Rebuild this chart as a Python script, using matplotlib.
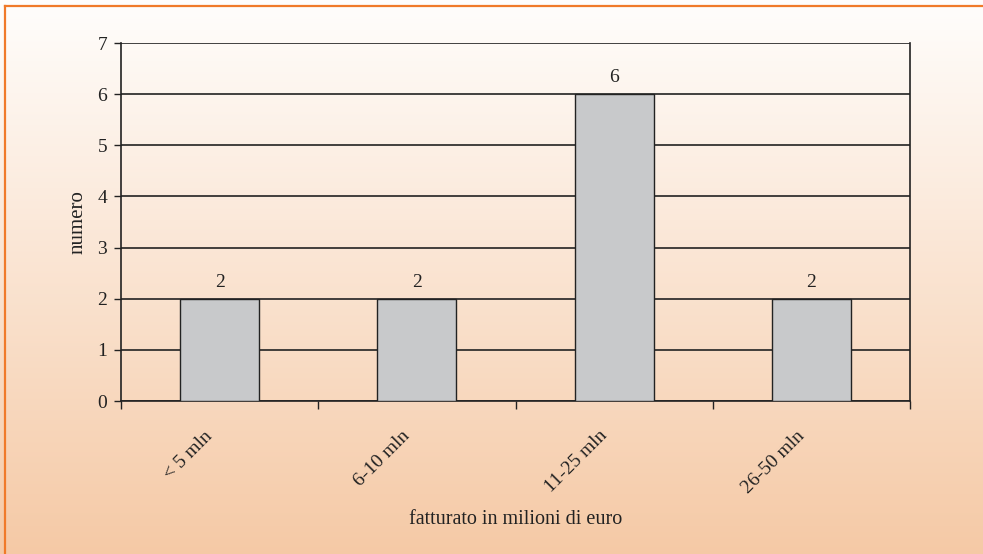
import numpy as np
import matplotlib.pyplot as plt
from matplotlib.lines import Line2D

categories = ["< 5 mln", "6-10 mln", "11-25 mln", "26-50 mln"]
values = [2, 2, 6, 2]
y_ticks = [0, 1, 2, 3, 4, 5, 6, 7]

plt.rcParams['font.family'] = ['Liberation Serif', 'DejaVu Serif']

fig = plt.figure(figsize=(9.83, 5.54), dpi=100)

# sfondo sfumato
bg = fig.add_axes([0, 0, 1, 1], zorder=-10)
grad = np.linspace(0, 1, 256).reshape(-1, 1)
top = np.array([1.0, 0.995, 0.99])
bot = np.array([0.962, 0.79, 0.65])
img = top + (bot - top) * grad[:, :, None]
bg.imshow(img, aspect='auto', extent=[0, 1, 0, 1], origin='upper')
bg.set_xlim(0, 1)
bg.set_ylim(0, 1)
bg.axis('off')
# bordo arancione (sinistra e alto)
fig.add_artist(Line2D([4.5 / 983, 4.5 / 983], [0, 1 - 5.5 / 554], color='#F07A2A', lw=1.6))
fig.add_artist(Line2D([4.5 / 983, 1], [1 - 5.5 / 554, 1 - 5.5 / 554], color='#F07A2A', lw=1.6))

ax = fig.add_axes([121 / 983, 1 - 401 / 554, 789 / 983, 358 / 554])
ax.patch.set_alpha(0)

x = np.arange(len(categories))
bars = ax.bar(x, values, width=0.4, color='#C8C9CB', edgecolor='#222222', linewidth=1.0, zorder=3)
for xi, v in zip(x, values):
    ax.text(xi, v + 0.15, str(v), ha='center', va='bottom', fontsize=14, color='#222222')

ax.set_xlim(-0.5, len(categories) - 0.5)
ax.set_ylim(0, 7)
ax.set_yticks(y_ticks)
ax.yaxis.grid(True, color='#222222', linewidth=1.2, zorder=1)
ax.set_axisbelow(True)
ax.tick_params(axis='y', labelsize=14, colors='#222222', length=5, width=1.0, direction='out', pad=5)

# tacche x ai bordi delle categorie, etichette (leggermente a sinistra del centro)
ax.set_xticks(np.arange(len(categories) + 1) - 0.5)
ax.set_xticklabels([])
ax.set_xticks(x - 0.08, minor=True)
ax.set_xticklabels(categories, minor=True, rotation=45, ha='right', rotation_mode='anchor',
                   fontsize=14, color='#222222')
ax.tick_params(axis='x', which='major', length=6, width=1.0, color='#222222')
ax.tick_params(axis='x', which='minor', length=0, pad=19)

for s in ['left', 'bottom', 'right']:
    ax.spines[s].set_color('#222222')
    ax.spines[s].set_linewidth(1.2)
ax.spines['top'].set_visible(False)

ax.set_ylabel('numero', fontsize=15, color='#222222', labelpad=7)
ax.set_xlabel('fatturato in milioni di euro', fontsize=14.5, color='#222222', labelpad=10)

plt.savefig('out.png', dpi=100)
